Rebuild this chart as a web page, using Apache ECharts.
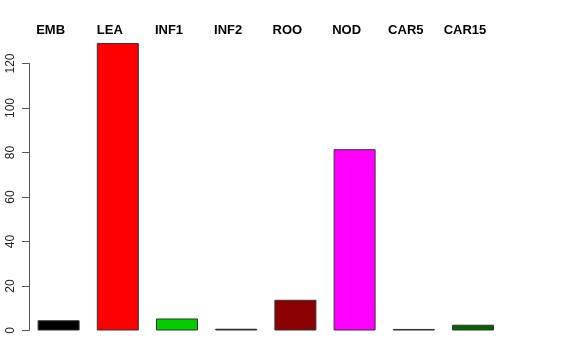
<!DOCTYPE html>
<html><head><meta charset="utf-8">
<script src="https://cdn.jsdelivr.net/npm/echarts@6/dist/echarts.min.js"></script>
<style>html,body{margin:0;padding:0;background:#fff}#c{width:576px;height:360px}</style>
</head><body><div id="c"></div>
<script>
var categories = ['EMB','LEA','INF1','INF2','ROO','NOD','CAR5','CAR15'];
var values = [4.6, 129.2, 5.4, 0.8, 13.8, 81.5, 0.7, 2.6];
var colors = ['#000000','#FF0000','#00CD00','#000080','#8B0000','#FF00FF','#000080','#006400'];
var yTicks = [0,20,40,60,80,100,120];

var chart = echarts.init(document.getElementById('c'), null, {renderer:'canvas'});
chart.setOption({
  animation:false,
  backgroundColor:'#fff',
  grid:{left:29, right:73.4, top:63.5, bottom:29.5},
  xAxis:{type:'category', data:categories, position:'top',
    axisLine:{show:false}, axisTick:{show:false},
    axisLabel:{margin:27, fontSize:13, fontWeight:'bold', color:'#000', fontFamily:'Liberation Sans, Arial, sans-serif', padding:[0,16,0,0]}},
  yAxis:{type:'value', min:0, max:120, interval:20,
    axisLine:{show:true, lineStyle:{color:'#555', width:1}},
    axisTick:{show:true, length:7, lineStyle:{color:'#555'}},
    splitLine:{show:false},
    axisLabel:{rotate:90, margin:12, fontSize:12, color:'#222', fontFamily:'Liberation Sans, Arial, sans-serif',
      formatter:function(v){return yTicks.indexOf(v)>=0?String(v):'';}}},
  series:[{type:'bar', clip:false, barWidth:42,
    data:values.map(function(v,i){return {value:v, itemStyle:{color:colors[i], borderColor:'#333', borderWidth:1}};})}]
});
</script></body></html>
